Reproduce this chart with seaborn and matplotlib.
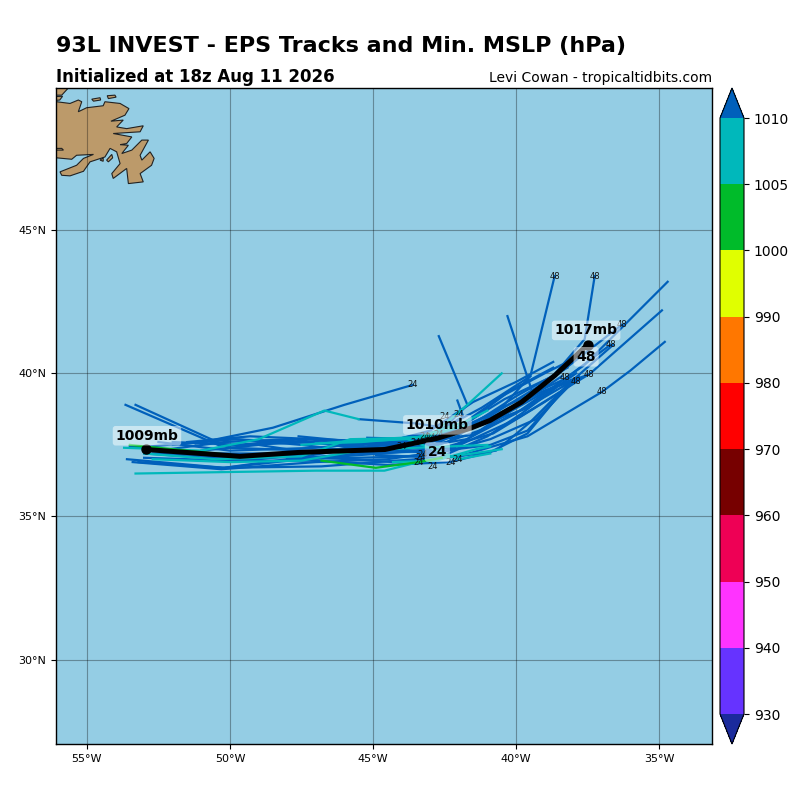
import matplotlib
matplotlib.use("Agg")
import matplotlib.pyplot as plt
import matplotlib.colors as mcolors
import matplotlib.cm as cm
import pandas as pd
import seaborn as sns

BLUE = "#0060bb"; TEAL = "#00b8bb"; GREEN = "#00bb2a"

tracks = [
 (BLUE, [-53.65,-50.3,-47.5,-44.6,-42.6,-40.6,-38.8,-37.6,-37.25], [38.9,37.45,37.7,37.55,37.8,38.7,39.8,41.2,43.4]),
 (BLUE, [-53.3,-50.0,-47.2,-44.4,-42.4,-40.6,-39.5,-38.65], [38.9,37.4,37.3,37.3,37.6,38.7,39.9,43.4]),
 (BLUE, [-53.6,-50.2,-47.5,-44.7,-42.3,-40.0,-37.6,-34.7], [37.0,36.7,37.0,37.2,37.4,38.6,40.3,43.2]),
 (BLUE, [-53.4,-50.3,-47.0,-44.5,-42.4,-40.0,-37.4,-34.9], [36.9,36.65,36.9,37.0,37.3,38.4,40.0,42.2]),
 (BLUE, [-53.2,-50.2,-46.8,-44.2,-42.0,-39.6,-37.0,-36.0,-34.8], [36.9,36.7,36.75,36.95,37.1,37.8,39.35,40.1,41.1]),
 (BLUE, [-52.0,-49.5,-47.0,-44.5,-42.5,-40.4,-38.5,-36.3], [37.6,37.5,37.6,37.5,37.8,39.1,40.0,41.7]),
 (BLUE, [-53.3,-50.0,-47.5,-44.8,-42.7,-40.5,-38.3,-36.7], [37.4,37.7,37.6,37.4,37.65,38.8,39.8,41.0]),
 (BLUE, [-52.5,-50.2,-47.8,-45.0,-42.9,-41.0,-39.0,-38.0], [37.3,37.6,37.7,37.3,37.5,38.4,39.4,39.8]),
 (BLUE, [-52.7,-50.5,-48.0,-45.2,-43.0,-41.0,-39.3,-38.0], [37.2,37.2,37.2,37.3,37.4,38.1,39.0,39.75]),
 (BLUE, [-52.0,-49.8,-47.5,-45.0,-42.9,-40.8,-39.0,-37.7], [37.5,37.7,37.5,37.2,37.3,37.9,39.0,39.85]),
 (BLUE, [-51.0,-49.0,-47.0,-44.6,-42.6,-40.5,-38.9,-37.5], [37.3,37.5,37.2,37.5,37.9,38.5,39.4,39.95]),
 (BLUE, [-53.0,-50.0,-47.4,-44.9,-43.0,-41.5,-40.0,-38.7], [37.2,37.0,37.1,37.5,38.0,39.0,39.7,40.4]),
 (BLUE, [-51.5,-49.3,-47.0,-44.3,-42.2,-40.5,-39.0,-38.3], [37.6,37.8,37.7,37.6,38.0,39.2,40.0,40.35]),
 (BLUE, [-50.2,-48.0,-45.5,-43.6,-41.7,-40.6,-39.4,-40.3], [36.7,37.0,37.2,37.4,37.7,38.4,39.25,42.0]),
 (BLUE, [-52.0,-49.0,-46.5,-44.2,-42.6,-41.7,-42.7], [37.2,37.0,37.3,37.7,38.0,38.9,41.3]),
 (BLUE, [-52.5,-50.0,-47.0,-44.8,-42.8,-41.85,-42.05], [37.6,37.3,37.4,37.6,37.9,38.5,39.05]),
 (BLUE, [-51.2,-48.5,-46.0,-43.6], [37.55,38.1,38.9,39.6]),
 (BLUE, [-45.5,-43.5,-42.5,-41.2,-39.5], [38.4,38.25,38.1,38.8,39.9]),
 (BLUE, [-53.5,-50.5,-47.5,-44.3,-42.0,-40.7,-39.5,-38.2,-36.6], [37.45,37.15,37.1,36.9,37.1,37.3,38.3,39.6,41.0]),
 (BLUE, [-53.0,-50.0,-47.0,-44.5,-42.3,-40.9,-39.6,-38.2], [37.05,36.95,36.95,36.8,36.9,37.25,37.9,39.6]),
 (BLUE, [-47.6,-45.0,-42.5,-40.9,-39.6,-38.1], [37.8,37.55,37.3,37.5,38.0,39.65]),
 (BLUE, [-47.0,-44.8,-42.7,-40.9,-39.3,-37.8], [37.7,37.35,37.2,37.7,38.4,39.9]),
 (BLUE, [-45.2,-43.1,-41.2,-39.7,-37.9], [37.7,37.55,38.2,38.75,40.0]),
 (BLUE, [-45.6,-43.4,-41.5,-39.9,-38.4], [37.4,37.6,37.85,38.9,39.9]),
 (BLUE, [-45.4,-43.3,-41.4,-40.0,-38.2], [37.55,37.7,38.3,39.2,40.2]),
 (BLUE, [-44.9,-42.7,-41.0,-39.8,-38.6], [37.15,37.05,37.8,38.6,39.5]),
 (BLUE, [-45.2,-43.3,-41.8,-40.2,-38.7], [37.75,37.7,38.2,39.4,40.2]),
 (BLUE, [-48.0,-45.5,-43.8,-42.5], [37.0,37.05,37.1,37.2]),
 (TEAL, [-53.3,-50.2,-47.0,-44.6,-43.0,-41.5,-40.5], [36.5,36.55,36.6,36.6,37.0,37.2,37.35]),
 (TEAL, [-53.7,-51.0,-49.0,-46.7,-45.5], [37.4,37.3,37.7,38.7,38.4]),
 (TEAL, [-52.7,-50.0,-47.5,-45.5,-43.5,-41.0], [37.0,36.9,36.95,37.3,37.4,37.5]),
 (TEAL, [-53.0,-50.5,-47.5,-45.8,-43.3,-41.7], [37.2,37.0,37.1,37.7,37.75,38.2]),
 (TEAL, [-47.5,-45.0,-43.0,-41.7,-40.5], [37.5,37.7,37.8,38.9,40.0]),
 (TEAL, [-46.0,-43.8,-42.0,-40.9], [37.6,37.7,37.0,37.2]),
 (TEAL, [-47.0,-45.4,-43.5,-41.8,-41.0], [37.55,37.6,37.75,38.3,38.7]),
 (TEAL, [-44.3,-42.8,-41.4,-40.9], [36.9,36.95,37.35,37.45]),
 (GREEN, [-53.5,-51.5,-49.5], [37.5,37.3,37.1]),
 (GREEN, [-46.8,-44.9,-43.4,-42.6], [36.95,36.7,36.9,37.05]),
]
mean_lon = [-52.94,-49.65,-47.55,-44.58,-42.76,-41.6,-40.9,-39.8,-38.64,-37.5]
mean_lat = [37.34,37.1,37.24,37.34,37.73,38.08,38.36,39.0,39.93,41.0]

labels_48 = [(-37.25,43.4),(-38.65,43.4),(-36.3,41.7),(-36.7,41.0),(-37.0,39.35),(-38.3,39.85),(-37.9,39.7),(-37.45,39.95)]
labels_24 = [(-43.6,39.6),(-42.5,38.5),(-42.0,38.55),(-43.35,37.05),(-43.4,36.9),(-43.25,37.15),(-42.9,36.75),(-42.05,37.0),(-42.3,36.9),(-43.5,37.6),(-43.0,37.75),(-44.0,37.45),(-43.2,37.8),(-42.7,37.85)]

land_main = ([-56.5,-56.06,-55.59,-55.30,-55.18,-55.30,-55.01,-54.43,-54.37,-53.84,-53.53,-53.67,-54.16,-53.73,-53.96,-53.61,-53.03,-53.14,-54.08,-53.43,-53.61,-53.84,-53.55,-53.78,-53.43,-53.08,-52.85,-53.14,-53.08,-52.79,-52.65,-52.74,-53.14,-53.03,-53.55,-53.61,-54.08,-54.13,-53.84,-53.96,-54.19,-54.37,-54.89,-55.12,-55.59,-55.88,-55.94,-55.36,-55.12,-54.77,-55.36,-55.53,-56.06,-56.5],
             [49.5,49.49,49.43,49.55,49.49,49.14,49.28,49.35,49.49,49.43,49.25,49.02,48.81,48.85,48.61,48.55,48.65,48.44,48.38,48.26,48.03,47.99,47.97,47.68,47.80,48.15,48.15,47.62,47.45,47.74,47.51,47.27,46.98,46.69,46.63,47.16,46.81,46.98,47.33,47.74,47.86,47.56,47.39,47.06,46.90,46.92,47.04,47.27,47.51,47.65,47.62,47.48,47.53,47.53])
land_south = ([-56.5,-56.06,-55.82,-55.88,-56.5],[47.80,47.80,47.80,47.86,47.86])
land_top = ([-56.5,-55.53,-55.88,-56.5],[50.1,50.1,49.72,49.72])
land_top2 = ([-56.5,-55.85,-55.95,-56.5],[49.66,49.68,49.55,49.5])
islands = [([-54.83,-54.54,-54.52,-54.77],[49.58,49.63,49.55,49.51]),
           ([-54.29,-54.02,-53.98,-54.25],[49.70,49.72,49.65,49.60]),
           ([-54.31,-54.13,-54.10,-54.25],[47.45,47.65,47.53,47.39]),
           ([-54.54,-54.43,-54.43],[47.45,47.53,47.41])]

lon_ticks = [-55,-50,-45,-40,-35]
lat_ticks = [45,40,35,30]
cb_levels = [930,940,950,960,970,980,990,1000,1005,1010]
cb_colors = ["#6633ff","#ff33ff","#ee0055","#770000","#ff0000","#ff7700","#e0ff00","#00bb2a","#00b8bb"]
cb_under = "#1a2a9c"; cb_over = "#0060bb"

fig = plt.figure(figsize=(8,8), dpi=100)
ax = fig.add_axes([56/800, (800-744)/800, 656/800, 656/800])
ax.set_facecolor("#94cde4")

for lo, la in [land_main, land_south, land_top, land_top2] + islands:
    ax.fill(lo, la, facecolor="#bc9a6a", edgecolor="#222222", lw=0.8, zorder=2)

for i, (c, lo, la) in enumerate(tracks):
    d = pd.DataFrame({"lon": lo, "lat": la})
    sns.lineplot(data=d, x="lon", y="lat", sort=False, estimator=None, color=c, lw=1.6, ax=ax, zorder=3)

for x, y in labels_24 + labels_48:
    t = "48" if (x, y) in labels_48 else "24"
    ax.text(x, y, t, fontsize=6, ha="center", va="center", color="#111111", zorder=4)

d = pd.DataFrame({"lon": mean_lon, "lat": mean_lat})
sns.lineplot(data=d, x="lon", y="lat", sort=False, estimator=None, color="k", lw=3.6, ax=ax, zorder=5)
ax.plot([mean_lon[0], mean_lon[-1]], [mean_lat[0], mean_lat[-1]], "o", color="k", ms=6.5, zorder=6)

box = dict(boxstyle="round,pad=0.2", facecolor="white", edgecolor="none", alpha=0.5)
ax.text(-52.9, 37.82, "1009mb", fontsize=10, fontweight="bold", ha="center", va="center", bbox=box, zorder=7)
ax.text(-42.75, 38.2, "1010mb", fontsize=10, fontweight="bold", ha="center", va="center", bbox=box, zorder=7)
ax.text(-37.55, 41.5, "1017mb", fontsize=10, fontweight="bold", ha="center", va="center", bbox=box, zorder=7)
ax.text(-42.75, 37.25, "24", fontsize=10, fontweight="bold", ha="center", va="center", bbox=box, zorder=7)
ax.text(-37.55, 40.58, "48", fontsize=10, fontweight="bold", ha="center", va="center", bbox=box, zorder=7)

ax.set_xlim(-56.08, -33.15)
ax.set_ylim(27.05, 49.97)
ax.set_xticks(lon_ticks)
ax.set_xticklabels([f"{abs(v)}°W" for v in lon_ticks], fontsize=8)
ax.set_yticks(lat_ticks)
ax.set_yticklabels([f"{v}°N" for v in lat_ticks], fontsize=8)
ax.set_xlabel(""); ax.set_ylabel("")
ax.grid(True, color="black", lw=0.8, alpha=0.33, zorder=1)
ax.set_axisbelow(False)
for s in ax.spines.values():
    s.set_linewidth(1.0); s.set_zorder(10)

fig.text(56/800, 1-46/800, "93L INVEST - EPS Tracks and Min. MSLP (hPa)", fontsize=16, fontweight="bold", ha="left", va="center")
fig.text(56/800, 1-77/800, "Initialized at 18z Aug 11 2026", fontsize=12, fontweight="bold", ha="left", va="center")
fig.text(712/800, 1-78/800, "Levi Cowan - tropicaltidbits.com", fontsize=10, ha="right", va="center")

cax = fig.add_axes([720/800, (800-744)/800, 24/800, 656/800])
cmap = mcolors.ListedColormap(cb_colors)
cmap.set_under(cb_under); cmap.set_over(cb_over)
norm = mcolors.BoundaryNorm(cb_levels, cmap.N)
cb = fig.colorbar(cm.ScalarMappable(norm=norm, cmap=cmap), cax=cax, extend="both",
                  spacing="uniform", extendfrac=30/596, ticks=cb_levels)
cb.ax.tick_params(labelsize=10)
fig.savefig("out.png", dpi=100)
